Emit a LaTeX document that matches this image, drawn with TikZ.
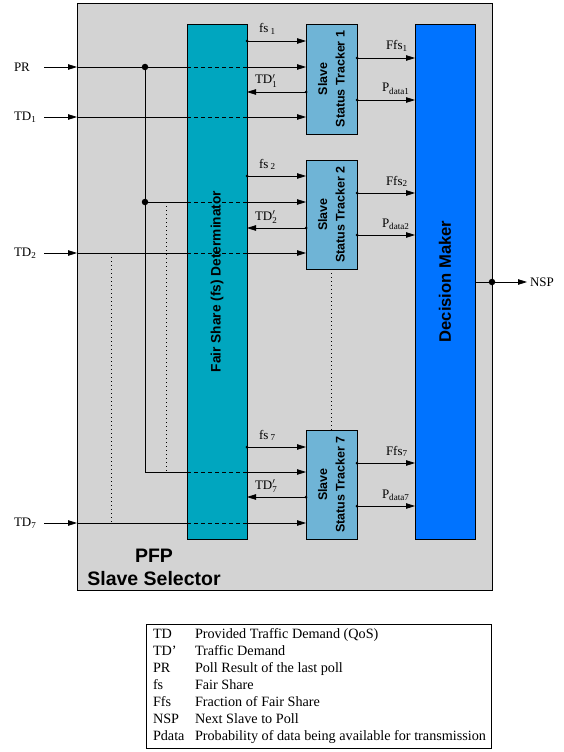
\documentclass[tikz,border=0pt]{standalone}
\usepackage{fontspec}
\setmainfont{Liberation Serif}
\setsansfont{Liberation Sans}
\usetikzlibrary{arrows.meta}
\definecolor{outerfill}{RGB}{211,211,211}
\definecolor{fsfill}{RGB}{0,166,191}
\definecolor{stfill}{RGB}{111,180,214}
\definecolor{dmfill}{RGB}{0,115,255}
\newcommand{\tdp}[1]{TD$'_{\hbox{\fontsize{9}{9}\selectfont #1}}$}
\begin{document}
\begin{tikzpicture}[x=1pt,y=-1pt,
  every node/.style={inner sep=0pt, outer sep=0pt},
  box/.style={draw=black, line width=0.9pt, anchor=north west},
  ln/.style={line width=0.8pt, black},
  arr/.style={ln, -{Triangle[length=9pt,width=5.5pt]}},
  dsh/.style={ln, dash pattern=on 4pt off 3pt},
  dotl/.style={line width=0.8pt, dash pattern=on 0.8pt off 3.2pt},
  sdot/.style={circle, fill=black, minimum size=3pt},
  bdot/.style={circle, fill=black, minimum size=6.5pt},
  lbl/.style={anchor=base west, font=\fontsize{13}{15}\selectfont},
  inl/.style={anchor=west, font=\fontsize{13}{15}\selectfont},
  sttext/.style={rotate=90, align=center, font=\sffamily\bfseries\fontsize{12.5}{17.5}\selectfont},
  legtext/.style={anchor=base west, font=\fontsize{14.2}{16}\selectfont},
]
\useasboundingbox (0,0) rectangle (563,752);

% boxes
\node[box, fill=outerfill, minimum width=415pt, minimum height=587pt] (outer) at (77,3) {};
\node[box, fill=fsfill, minimum width=60pt, minimum height=515pt] (fsd) at (187,24) {};
\node[box, fill=stfill, minimum width=51pt, minimum height=110pt] (st1) at (306,24) {};
\node[box, fill=stfill, minimum width=51pt, minimum height=109pt] (st2) at (306,160) {};
\node[box, fill=stfill, minimum width=51pt, minimum height=109pt] (st7) at (306,430) {};
\node[box, fill=dmfill, minimum width=60pt, minimum height=515pt] (dm) at (415,24) {};

\node[rotate=90, font=\sffamily\bfseries\fontsize{13.7}{16}\selectfont] at (fsd.center) {Fair Share (fs) Determinator};
\node[rotate=90, font=\sffamily\bfseries\fontsize{16.6}{19}\selectfont] at (dm.center) {Decision Maker};
\node[sttext] at (st1.center) {Slave\\Status Tracker 1};
\node[sttext] at (st2.center) {Slave\\Status Tracker 2};
\node[sttext] at (st7.center) {Slave\\Status Tracker 7};

\node[anchor=base, font=\sffamily\bfseries\fontsize{19.5}{23}\selectfont] (pfp) at (154,562) {PFP};
\node[anchor=base, font=\sffamily\bfseries\fontsize{19.5}{23}\selectfont] (ss) at (154,585) {Slave Selector};

% input coordinates
\coordinate (inPR) at (44,67);
\coordinate (inTD1) at (44,117);
\coordinate (inTD2) at (44,253);
\coordinate (inTD7) at (44,523);
\node[inl] (lPR) at (14,67) {PR};
\node[inl] (lTD1) at (14,117) {TD\textsubscript{1}};
\node[inl] (lTD2) at (14,253) {TD\textsubscript{2}};
\node[inl] (lTD7) at (14,523) {TD\textsubscript{7}};

\coordinate (j1) at (145,67);
\coordinate (j2) at (145,202);
\coordinate (j7) at (145,472);

% PR line to tracker 1
\draw[arr] (inPR) -- (outer.west |- inPR);
\draw[ln] (outer.west |- inPR) -- (fsd.west |- inPR);
\draw[dsh] (fsd.west |- inPR) -- (fsd.east |- inPR);
\draw[arr] (fsd.east |- inPR) -- (st1.west |- inPR);
% PR vertical and branches
\draw[ln] (j1) -- (j7);
\draw[ln] (j2) -- (fsd.west |- j2);
\draw[dsh] (fsd.west |- j2) -- (fsd.east |- j2);
\draw[arr] (fsd.east |- j2) -- (st2.west |- j2);
\draw[ln] (j7) -- (fsd.west |- j7);
\draw[dsh] (fsd.west |- j7) -- (fsd.east |- j7);
\draw[arr] (fsd.east |- j7) -- (st7.west |- j7);
\node[bdot] at (j1) {};
\node[bdot] at (j2) {};

% TD lines
\foreach \c/\s in {inTD1/st1, inTD2/st2, inTD7/st7}{
  \draw[arr] (\c) -- (outer.west |- \c);
  \draw[ln] (outer.west |- \c) -- (fsd.west |- \c);
  \draw[dsh] (fsd.west |- \c) -- (fsd.east |- \c);
  \draw[arr] (fsd.east |- \c) -- (\s.west |- \c);
}

% dotted verticals
\draw[dotl] (166,202) -- (166,472);
\draw[dotl] (111,253) -- (111,523);
\draw[dotl] (st2.south -| 331,0) -- (st7.north -| 331,0);

% fs and TD' lines
\foreach \s/\f/\t in {st1/41/92, st2/176/228, st7/447/497}{
  \coordinate (fsc) at (0,\f);
  \coordinate (tdc) at (0,\t);
  \draw[arr] (fsd.east |- fsc) -- (\s.west |- fsc);
  \node[sdot] at (fsd.east |- fsc) {};
  \draw[arr] (\s.west |- tdc) -- (fsd.east |- tdc);
  \node[sdot] at (\s.west |- tdc) {};
}
% Ffs and Pdata lines
\foreach \s/\f/\p in {st1/58/100, st2/193/235, st7/463/506}{
  \coordinate (ffc) at (0,\f);
  \coordinate (pdc) at (0,\p);
  \draw[arr] (\s.east |- ffc) -- (dm.west |- ffc);
  \node[sdot] at (\s.east |- ffc) {};
  \draw[arr] (\s.east |- pdc) -- (dm.west |- pdc);
  \node[sdot] at (\s.east |- pdc) {};
}

% labels
\node[lbl] at (259,33) {fs\,\textsubscript{1}};
\node[lbl] at (255,84) {\tdp{1}};
\node[lbl] at (259,168) {fs\,\textsubscript{2}};
\node[lbl] at (255,220) {\tdp{2}};
\node[lbl] at (259,439) {fs\,\textsubscript{7}};
\node[lbl] at (255,489) {\tdp{7}};
\node[lbl] at (386,50) {Ffs\textsubscript{1}};
\node[lbl] at (382,92) {P\textsubscript{data1}};
\node[lbl] at (386,185) {Ffs\textsubscript{2}};
\node[lbl] at (382,227) {P\textsubscript{data2}};
\node[lbl] at (386,455) {Ffs\textsubscript{7}};
\node[lbl] at (382,498) {P\textsubscript{data7}};

% NSP
\coordinate (nsp) at (527,282);
\draw[arr] (dm.east |- nsp) -- (nsp);
\node[bdot] at (outer.east |- nsp) {};
\node[inl] (lNSP) at (530,282) {NSP};

% legend
\node[draw=black, line width=0.7pt, anchor=north west, minimum width=345pt, minimum height=124pt] (legend) at (146,624) {};
\foreach \y/\a/\b in {
  638/TD/Provided Traffic Demand (QoS),
  655/TD’/Traffic Demand,
  672/PR/Poll Result of the last poll,
  689/fs/Fair Share,
  706/Ffs/Fraction of Fair Share,
  723/NSP/Next Slave to Poll,
  740/Pdata/Probability of data being available for transmission}{
  \node[legtext] at (153,\y) {\a};
  \node[legtext] at (195,\y) {\b};
}
\end{tikzpicture}
\end{document}
